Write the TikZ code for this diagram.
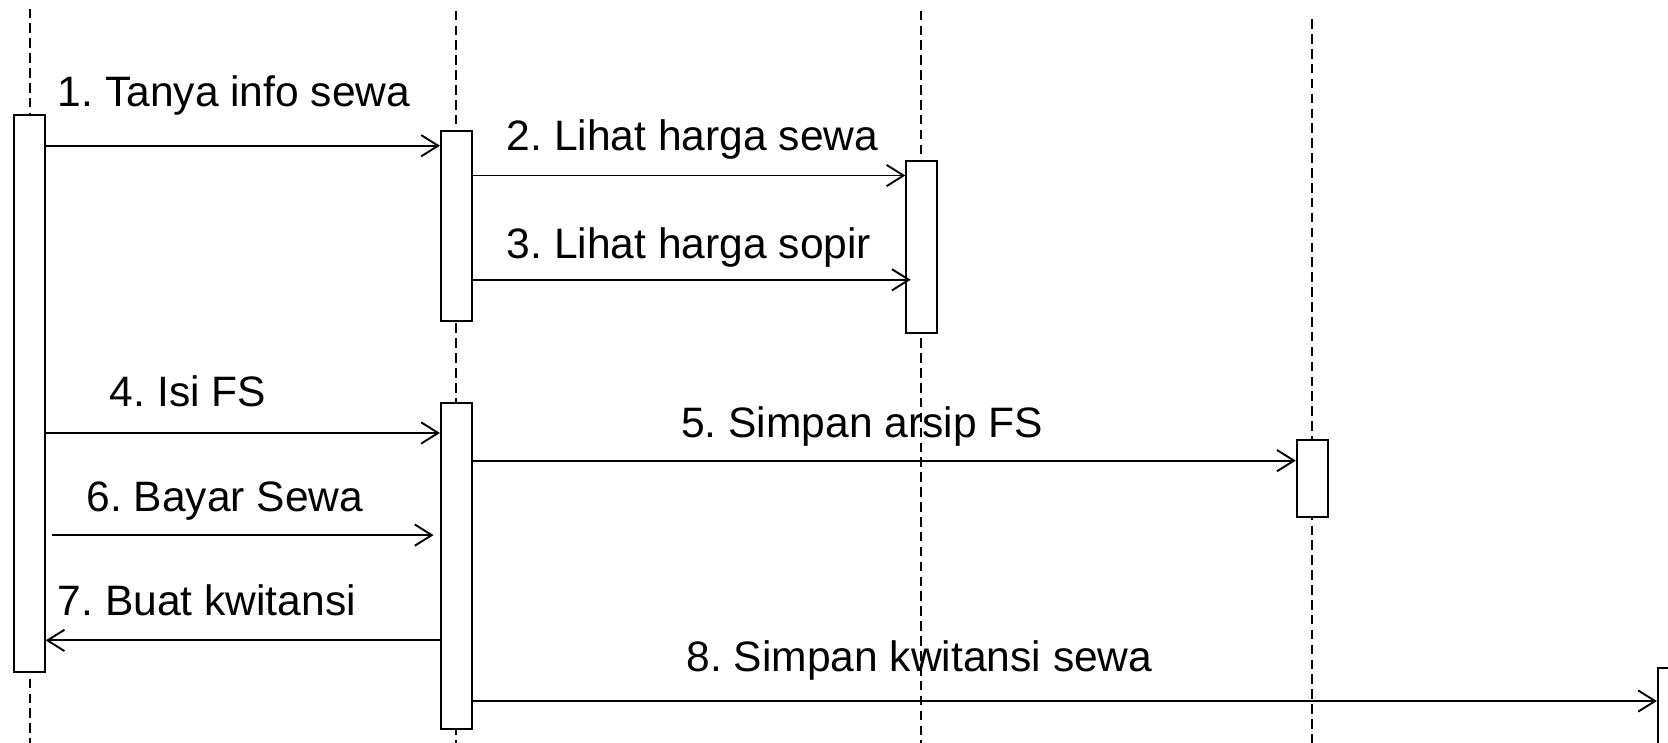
\documentclass[tikz,border=0pt]{standalone}
\usepackage{fontspec}
\setmainfont{Liberation Sans}
\usetikzlibrary{arrows.meta}
\begin{document}
\frenchspacing
\begin{tikzpicture}[x=0.5pt,y=-0.5pt,
  lifeline/.style={line width=0.85pt,dash pattern=on 4.5pt off 2.5pt},
  act/.style={draw,fill=white,line width=0.9pt,inner sep=0pt,minimum width=14.5pt},
  msg/.style={line width=0.9pt,-{Straight Barb[length=8pt,width=10pt,line width=0.9pt]}},
  lbl/.style={anchor=base west,inner sep=0pt,font=\fontsize{20}{24}\selectfont}]
\clip (0,0) rectangle (1568,698);
\fill[white] (0,0) rectangle (1568,698);
% lifelines
\draw[lifeline] (28,8) -- (28,698);
\draw[lifeline] (429,10) -- (429,698);
\draw[lifeline] (866,10) -- (866,698);
\draw[lifeline] (1233,18) -- (1233,698);
% activation bars
\node[act,minimum height=262pt] (A1) at (27.5,370) {};
\node[act,minimum height=89.5pt] (A2) at (429,212.5) {};
\node[act,minimum height=81pt] (A3) at (866.5,232) {};
\node[act,minimum height=153pt] (A4) at (429,532) {};
\node[act,minimum height=36pt] (A5) at (1233.5,450) {};
\node[act,minimum height=56pt] (A6) at (1573,684) {};
% message rows
\coordinate (y1) at (0,137);
\coordinate (y2) at (0,165);
\coordinate (y3) at (0,263);
\coordinate (y4) at (0,407);
\coordinate (y5) at (0,433);
\coordinate (y6) at (0,503);
\coordinate (y7) at (0,602);
\coordinate (y8) at (0,659);
% messages
\draw[msg] (A1.east |- y1) -- (A2.west |- y1);
\draw[msg] (A2.east |- y2) -- (A3.west |- y2);
\draw[msg] (A2.east |- y3) -- ([xshift=2.5pt]A3.west |- y3);
\draw[msg] (A1.east |- y4) -- (A4.west |- y4);
\draw[msg] (A4.east |- y5) -- (A5.west |- y5);
\draw[msg] ([xshift=3pt]A1.east |- y6) -- ([xshift=-3pt]A4.west |- y6);
\draw[msg] (A4.west |- y7) -- (A1.east |- y7);
\draw[msg] (A4.east |- y8) -- (A6.west |- y8);
% labels
\node[lbl] (t1) at (54,100) {1. Tanya info sewa};
\node[lbl] (t2) at (476,141) {2. Lihat harga sewa};
\node[lbl] (t3) at (476,243) {3. Lihat harga sopir};
\node[lbl] (t4) at (103,382) {4. Isi FS};
\node[lbl] (t5) at (640,411) {5. Simpan arsip FS};
\node[lbl] (t6) at (81,481) {6. Bayar Sewa};
\node[lbl] (t7) at (54,579) {7. Buat kwitansi};
\node[lbl] (t8) at (645,631) {8. Simpan kwitansi sewa};
\end{tikzpicture}
\end{document}
